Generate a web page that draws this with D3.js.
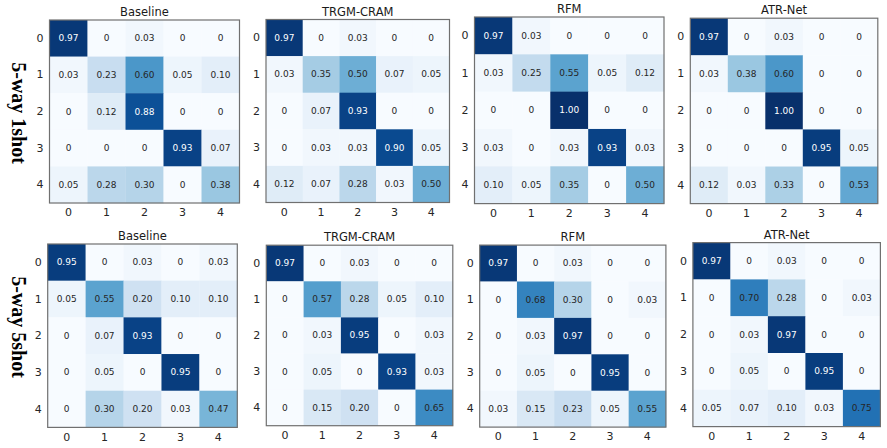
<!DOCTYPE html>
<html><head><meta charset="utf-8">
<script src="https://cdn.jsdelivr.net/npm/d3@7"></script>
<style>body{margin:0;background:#fff}svg{display:block}</style>
</head><body>
<svg id="c" width="887" height="448"></svg>
<script>
const classes = ["0","1","2","3","4"];
const methods = ["Baseline","TRGM-CRAM","RFM","ATR-Net"];
const rowLabels = ["5-way 1shot","5-way 5shot"];

const baseline1 = [[0.97,0,0.03,0,0],[0.03,0.23,0.60,0.05,0.10],[0,0.12,0.88,0,0],[0,0,0,0.93,0.07],[0.05,0.28,0.30,0,0.38]];
const trgm1 = [[0.97,0,0.03,0,0],[0.03,0.35,0.50,0.07,0.05],[0,0.07,0.93,0,0],[0,0.03,0.03,0.90,0.05],[0.12,0.07,0.28,0.03,0.50]];
const rfm1 = [[0.97,0.03,0,0,0],[0.03,0.25,0.55,0.05,0.12],[0,0,1.00,0,0],[0.03,0,0.03,0.93,0.03],[0.10,0.05,0.35,0,0.50]];
const atr1 = [[0.97,0,0.03,0,0],[0.03,0.38,0.60,0,0],[0,0,1.00,0,0],[0,0,0,0.95,0.05],[0.12,0.03,0.33,0,0.53]];
const baseline5 = [[0.95,0,0.03,0,0.03],[0.05,0.55,0.20,0.10,0.10],[0,0.07,0.93,0,0],[0,0.05,0,0.95,0],[0,0.30,0.20,0.03,0.47]];
const trgm5 = [[0.97,0,0.03,0,0],[0,0.57,0.28,0.05,0.10],[0,0.03,0.95,0,0.03],[0,0.05,0,0.93,0.03],[0,0.15,0.20,0,0.65]];
const rfm5 = [[0.97,0,0.03,0,0],[0,0.68,0.30,0,0.03],[0,0.03,0.97,0,0],[0,0.05,0,0.95,0],[0.03,0.15,0.23,0.05,0.55]];
const atr5 = [[0.97,0,0.03,0,0],[0,0.70,0.28,0,0.03],[0,0.03,0.97,0,0],[0,0.05,0,0.95,0],[0.05,0.07,0.10,0.03,0.75]];

const matrices = [[baseline1,trgm1,rfm1,atr1],[baseline5,trgm5,rfm5,atr5]];

// layout boxes [x0,x1,y0,y1]
const boxes = [
  [[49.5,239.5,20,203],[266,449.5,19.5,202.5],[474.5,664,17,203.6],[690.3,877.8,18.2,203.6]],
  [[47.7,237.3,244,427.4],[266.3,452.8,245.2,425.7],[479.7,665.9,245.1,427.1],[692.9,880.4,242.6,426.6]]
];

const svg = d3.select("#c");
const color = d3.scaleSequential(d3.interpolateBlues).domain([0,1]);
const fmt = v => v === 0 ? "0" : d3.format(".2f")(v);

matrices.forEach((row, r) => {
  row.forEach((m, c) => {
    const [x0,x1,y0,y1] = boxes[r][c];
    const x = d3.scaleBand().domain(classes).range([x0,x1]);
    const y = d3.scaleBand().domain(classes).range([y0,y1]);
    const g = svg.append("g");
    const cells = [];
    m.forEach((rv, i) => rv.forEach((v, j) => cells.push({i, j, v})));
    g.selectAll("rect.cell").data(cells).join("rect")
      .attr("x", d => x(classes[d.j])).attr("y", d => y(classes[d.i]))
      .attr("width", x.bandwidth()+0.3).attr("height", y.bandwidth()+0.3)
      .attr("fill", d => color(d.v));
    g.selectAll("text.val").data(cells).join("text")
      .attr("x", d => x(classes[d.j]) + x.bandwidth()/2)
      .attr("y", d => y(classes[d.i]) + y.bandwidth()/2)
      .attr("text-anchor","middle").attr("dominant-baseline","central")
      .attr("font-family","DejaVu Sans").attr("font-size", 9)
      .attr("fill", d => d.v > 0.8 ? "#ffffff" : "#262626")
      .text(d => fmt(d.v));
    g.append("rect").attr("x",x0).attr("y",y0).attr("width",x1-x0).attr("height",y1-y0)
      .attr("fill","none").attr("stroke","#707070").attr("stroke-width",1.2);
    // axes
    const ax = g.append("g").attr("transform",`translate(0,${y1})`)
      .call(d3.axisBottom(x).tickSize(0).tickPadding(5.5));
    const ay = g.append("g").attr("transform",`translate(${x0},0)`)
      .call(d3.axisLeft(y).tickSize(0).tickPadding(6));
    [ax, ay].forEach(a => {
      a.select(".domain").remove();
      a.selectAll("text").attr("font-family","DejaVu Sans").attr("font-size",11).attr("fill","#262626");
    });
    g.append("text").attr("x",(x0+x1)/2).attr("y",y0-4)
      .attr("text-anchor","middle").attr("font-family","DejaVu Sans").attr("font-size",11.5)
      .attr("fill","#1a1a1a").text(methods[c]);
  });
});

const rowCenters = [113, 327];
rowLabels.forEach((t, r) => {
  svg.append("text").attr("transform",`translate(19,${rowCenters[r]}) rotate(90)`)
    .attr("text-anchor","middle").attr("dominant-baseline","central")
    .attr("font-family","Liberation Serif").attr("font-weight","bold").attr("font-size",20)
    .attr("fill","#000").text(t);
});
</script>
</body></html>
